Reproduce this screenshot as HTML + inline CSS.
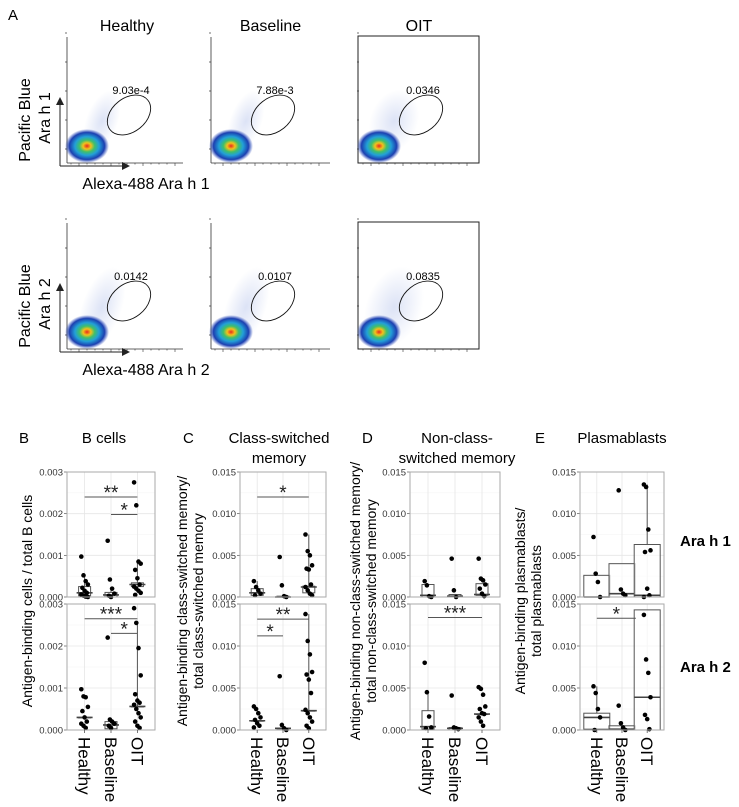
<!DOCTYPE html>
<html><head><meta charset="utf-8">
<style>
body{margin:0;background:#fff;}
svg{display:block;font-family:"Liberation Sans",Arial,sans-serif;}
</style></head>
<body>
<svg id="fig" width="739" height="807" viewBox="0 0 739 807">
<defs>
<radialGradient id="blob" cx="50%" cy="50%" r="50%">
<stop offset="0" stop-color="#e8281e"/>
<stop offset="0.18" stop-color="#f2c21c"/>
<stop offset="0.35" stop-color="#3fbf6a"/>
<stop offset="0.55" stop-color="#22a0d8"/>
<stop offset="0.8" stop-color="#1c3fb0"/>
<stop offset="1" stop-color="#3050c0" stop-opacity="0"/>
</radialGradient>
<radialGradient id="haze" cx="50%" cy="50%" r="50%">
<stop offset="0" stop-color="#8aa0e0" stop-opacity="0.3"/>
<stop offset="1" stop-color="#8aa0e0" stop-opacity="0"/>
</radialGradient>
<marker id="arr" markerWidth="8" markerHeight="8" refX="6" refY="4" orient="auto"><path d="M0,0 L8,4 L0,8 z" fill="#222"/></marker>
</defs>
<text x="8" y="20" font-size="15">A</text>
<g id="flow"></g>
<g id="charts"></g>
</svg>
<script>
const NS="http://www.w3.org/2000/svg";
function mk(tag,attrs,parent,text){const e=document.createElementNS(NS,tag);for(const k in attrs)e.setAttribute(k,attrs[k]);if(text!==undefined)e.textContent=text;parent.appendChild(e);return e;}

/* ---------- Flow plots ---------- */
const flowGroups=["Healthy","Baseline","OIT"];
const flowRow1=["9.03e-4","7.88e-3","0.0346"];
const flowRow2=["0.0142","0.0107","0.0835"];
const flowRowNames=["Ara h 1","Ara h 2"];
const flow=document.getElementById('flow');
const fx=[67,211,359],fw=[116,119,120];
flowGroups.forEach((g,i)=>{
  const t=mk('text',{x:fx[i]+fw[i]/2+(i==0?2:0),y:31,'font-size':16,'text-anchor':'middle'},flow,g);
  
  
});
[flowRow1,flowRow2].forEach((vals,r)=>{
  const oy=r*186;
  vals.forEach((v,i)=>{
    const gp=mk('g',{},flow);
    
    
    const x0=fx[i],x1=fx[i]+fw[i],y0=37+oy,y1=163+oy;
    if(i==2) mk('rect',{x:x0-1,y:y0-1,width:x1-x0+1,height:y1-y0+1,fill:'none',stroke:'#222','stroke-width':1},gp);
    else{
      mk('line',{x1:x0,y1:y0,x2:x0,y2:y1,stroke:'#333','stroke-width':0.8},gp);
      mk('line',{x1:x0,y1:y1,x2:x1,y2:y1,stroke:'#333','stroke-width':0.8},gp);
    }
    for(let k=0;k<14;k++){mk('line',{x1:x0+4+k*8,y1:y1,x2:x0+4+k*8,y2:y1+(k%4==1?3:1.5),stroke:'#333','stroke-width':0.6},gp);}
    for(let k=0;k<5;k++){mk('line',{x1:x0,y1:y1-14-k*29,x2:x0-2,y2:y1-14-k*29,stroke:'#333','stroke-width':0.7},gp);}
    const bx=x0+20,by=y1-17;
    mk('ellipse',{cx:bx+15,cy:by-25,rx:16+(i==2?8:0)+r*4,ry:32+r*10,fill:'url(#haze)',transform:`rotate(20 ${bx+15} ${by-25})`},gp);
    mk('ellipse',{cx:bx,cy:by,rx:22,ry:17,fill:'url(#blob)'},gp);
    const ex=x0+62,ey=y0+78;
    mk('ellipse',{cx:ex,cy:ey,rx:24,ry:17,fill:'none',stroke:'#111','stroke-width':0.9,transform:`rotate(-38 ${ex} ${ey})`},gp);
    mk('text',{x:ex+2,y:y0+57,'font-size':11,'text-anchor':'middle'},gp,v);
  });
  const ax=mk('g',{},flow);
  
  
  mk('line',{x1:60,y1:166+oy,x2:60,y2:99+oy,stroke:'#222','stroke-width':1,'marker-end':'url(#arr)'},ax);
  mk('line',{x1:60,y1:166+oy,x2:128,y2:166+oy,stroke:'#222','stroke-width':1,'marker-end':'url(#arr)'},ax);
  mk('text',{x:0,y:0,'font-size':16,'text-anchor':'middle',transform:`translate(30 ${120+oy}) rotate(-90)`},ax,'Pacific Blue');
  mk('text',{x:0,y:0,'font-size':16,'text-anchor':'middle',transform:`translate(50 ${118+oy}) rotate(-90)`},ax,flowRowNames[r]);
  mk('text',{x:146,y:189+oy,'font-size':16,'text-anchor':'middle'},ax,'Alexa-488 '+flowRowNames[r]);
});

/* ---------- Box/dot chart data ---------- */
const categories=["Healthy","Baseline","OIT"];
// B cells
const bTopPts=[[0.00097,0.00052,0.00038,0.0003,0.00022,0.00015,0.0001,0.00006,0.00003,0.00001,0],[0.00135,0.00042,0.0002,0.00008,0.00003,0],[0.00275,0.0022,0.00085,0.0008,0.00065,0.00045,0.0003,0.00025,0.0002,0.00015,0.0001,0.00005]];
const bTopBox=[[0.00003,0.0001,0.00025,0.00052],[0,0.00005,0.00011,0.0002],[0.00025,0.0003,0.00034,0.00085]];
const bBotPts=[[0.00097,0.0008,0.00078,0.00055,0.00045,0.0003,0.0002,0.00015,0.0001,0.00005],[0.0022,0.00025,0.0002,0.00015,0.0001,0.00005],[0.0029,0.00255,0.00195,0.0013,0.00085,0.0007,0.00065,0.0006,0.0005,0.0004,0.0003,0.0002,0.0001,0.00005]];
const bBotBox=[[0.0003,0.0003,0.0003,0.0003],[0.00003,0.00012,0.0002,0.0002],[0.00056,0.00056,0.00056,0.00255]];
const bTopSig=[[0,2,0.0024,"**"],[1,2,0.00198,"*"]];
const bBotSig=[[0,2,0.00265,"***"],[1,2,0.0023,"*"]];
const bTicks=["0.000","0.001","0.002","0.003"];
// Class-switched
const cTopPts=[[0.0019,0.0012,0.0008,0.0004,0.0002],[0.0048,0.0014,0.0001,0],[0.0075,0.0055,0.005,0.0038,0.0034,0.0033,0.0015,0.0012,0.0008,0.0004,0.0002]];
const cTopBox=[[0.0002,0.0005,0.001,0.0019],[0,0,0.0001,0.0001],[0.0005,0.0012,0.0013,0.0075]];
const cBotPts=[[0.0028,0.0025,0.002,0.0015,0.0012,0.0008,0.0005,0.0003],[0.0064,0.0006,0.0002,0],[0.0138,0.0106,0.009,0.0069,0.0066,0.006,0.0044,0.0024,0.002,0.0015,0.001,0.0005,0.0002]];
const cBotBox=[[0.0011,0.0011,0.0011,0.0011],[0.0002,0.0002,0.0002,0.0002],[0.0023,0.0023,0.0023,0.0138]];
const cTopSig=[[0,2,0.012,"*"]];
const cBotSig=[[0,2,0.0132,"**"],[0,1,0.0112,"*"]];
const sTicks=["0.000","0.005","0.010","0.015"];
// Non-class-switched
const dTopPts=[[0.0019,0.0014,0.0001,0],[0.0046,0.0008,0],[0.0046,0.0022,0.002,0.0015,0.001,0.0004,0.0001]];
const dTopBox=[[0,0.0002,0.0015,0.0015],[0,0.0001,0.0003,0.0003],[0.0002,0.0003,0.0016,0.0016]];
const dBotPts=[[0.008,0.0045,0.0016,0.0003,0.0002],[0.0041,0.0003,0.0002,0.0001],[0.0051,0.0049,0.0042,0.0028,0.0025,0.002,0.0019,0.0015,0.001,0.0005]];
const dBotBox=[[0.0001,0.0004,0.0023,0.0045],[0,0.0002,0.0003,0.0003],[0.0019,0.0019,0.0019,0.0019]];
const dTopSig=[];
const dBotSig=[[0,2,0.0134,"***"]];
// Plasmablasts
const eTopPts=[[0.0072,0.0028,0.0018,0],[0.0128,0.0009,0.0004,0.0002],[0.0135,0.0132,0.0081,0.0056,0.0054,0.001,0.0002,0]];
const eTopBox=[[0,0,0.0026,0.0026],[0,0.0004,0.004,0.004],[0,0.0002,0.0063,0.0135]];
const eBotPts=[[0.0052,0.0044,0.0025,0.0015,0],[0.0029,0.0008,0.0003,0],[0.0137,0.0084,0.0068,0.0039,0.0018,0.0013,0.0001]];
const eBotBox=[[0.0001,0.0015,0.002,0.0052],[0,0.0001,0.0005,0.0005],[0,0.0039,0.0143,0.0143]];
const eTopSig=[];
const eBotSig=[[0,1.55,0.0133,"*"]];

const panels=[
 {id:'b',letter:'B',lx:19,title:['B cells'],tx:104,left:67,w:88,max:0.003,ticks:bTicks,bw:12,
  top:[bTopPts,bTopBox,bTopSig],bot:[bBotPts,bBotBox,bBotSig],ylab:['Antigen-binding cells / total B cells'],ylx:[35]},
 {id:'c',letter:'C',lx:183,title:['Class-switched','memory'],tx:279,left:240,w:86,max:0.015,ticks:sTicks,bw:12,
  top:[cTopPts,cTopBox,cTopSig],bot:[cBotPts,cBotBox,cBotSig],ylab:['Antigen-binding class-switched memory/','total class-switched memory'],ylx:[190,206]},
 {id:'d',letter:'D',lx:362,title:['Non-class-','switched memory'],tx:457,left:410,w:90,max:0.015,ticks:sTicks,bw:12,
  top:[dTopPts,dTopBox,dTopSig],bot:[dBotPts,dBotBox,dBotSig],ylab:['Antigen-binding non-class-switched memory/','total non-class-switched memory'],ylx:[363,379]},
 {id:'e',letter:'E',lx:535,title:['Plasmablasts'],tx:622,left:580,w:84,max:0.015,ticks:sTicks,bw:26,
  top:[eTopPts,eTopBox,eTopSig],bot:[eBotPts,eBotBox,eBotSig],ylab:['Antigen-binding plasmablasts/','total plasmablasts'],ylx:[528,544]}
];
const rows=[{top:472,bottom:597},{top:604,bottom:730}];
const charts=document.getElementById('charts');

panels.forEach(p=>{
  const g=mk('g',{},charts);
  
  
  const L=mk('text',{x:p.lx,y:443,'font-size':15},g,p.letter);
  
  
  p.title.forEach((t,k)=>{
    const T=mk('text',{x:p.tx,y:443+k*20,'font-size':15,'text-anchor':'middle'},g,t);
    
    
  });
  p.ylab.forEach((t,k)=>{
    const Y=mk('text',{x:0,y:0,'font-size':14,'text-anchor':'middle',transform:`translate(${p.ylx[k]-3} 601) rotate(-90)`},g,t);
    
    
  });
  const xPos=i=>p.left+p.w*(0.2+i*0.3);
  [p.top,p.bot].forEach((sec,r)=>{
    const R=rows[r];
    const yS=v=>R.bottom-(v/p.max)*(R.bottom-R.top);
    const pg=mk('g',{},g);
    
    
    mk('rect',{x:p.left,y:R.top,width:p.w,height:R.bottom-R.top,fill:'#fff'},pg);
    const nt=p.ticks.length;
    for(let k=0;k<nt*2-1;k++){
      const v=p.max*k/(2*(nt-1));
      mk('line',{x1:p.left,x2:p.left+p.w,y1:yS(v),y2:yS(v),stroke:k%2?'#f3f3f3':'#e6e6e6','stroke-width':k%2?0.5:0.8},pg);
    }
    categories.forEach((c,i)=>mk('line',{x1:xPos(i),x2:xPos(i),y1:R.top,y2:R.bottom,stroke:'#e6e6e6','stroke-width':0.8},pg));
    p.ticks.forEach((t,k)=>{
      const v=p.max*k/(nt-1);
      mk('text',{x:p.left-4,y:yS(v)+3.5,'font-size':9.5,'text-anchor':'end',fill:'#333'},pg,t);
      mk('line',{x1:p.left-3,x2:p.left,y1:yS(v),y2:yS(v),stroke:'#555','stroke-width':0.7},pg);
    });
    const [pts,box,sig]=sec;
    categories.forEach((c,i)=>{
      const x=xPos(i),b=box[i];
      const bg=mk('g',{},pg);
      
      
      mk('line',{x1:x,x2:x,y1:yS(b[2]),y2:yS(b[3]),stroke:'#555','stroke-width':1},bg);
      mk('rect',{x:x-p.bw/2,y:yS(b[2]),width:p.bw,height:Math.max(0.5,yS(b[0])-yS(b[2])),fill:'#fff','fill-opacity':0.6,stroke:'#555','stroke-width':1},bg);
      mk('line',{x1:x-p.bw/2-(p.bw<20?2:0),x2:x+p.bw/2+(p.bw<20?2:0),y1:yS(b[1]),y2:yS(b[1]),stroke:'#444','stroke-width':1.6},bg);
      pts[i].forEach((v,j)=>{
        const jit=((j*37)%7-3)*1.1;
        const d=mk('circle',{cx:x+jit,cy:yS(v),r:2.3,fill:'#000'},pg);
        
        
      });
    });
    sig.forEach(s=>{
      const x1=xPos(s[0]),x2=xPos(s[1]),y=yS(s[2]);
      const sg=mk('g',{},pg);
      
      
      mk('line',{x1:x1,x2:x2,y1:y,y2:y,stroke:'#555','stroke-width':1},sg);
      mk('text',{x:(x1+x2)/2,y:y+2,'font-size':19,'text-anchor':'middle',fill:'#222'},sg,s[3]);
    });
    mk('rect',{x:p.left,y:R.top,width:p.w,height:R.bottom-R.top,fill:'none',stroke:'#aaa','stroke-width':1},pg);
  });
  categories.forEach((c,i)=>{
    const x=xPos(i);
    mk('line',{x1:x,x2:x,y1:730,y2:733,stroke:'#555','stroke-width':0.8},g);
    const t=mk('text',{x:0,y:0,'font-size':17,transform:`translate(${x-6} 737) rotate(90)`},g,c);
    
    
  });
});
const a1=mk('text',{x:680,y:546,'font-size':15,'font-weight':'bold'},charts,'Ara h 1');


const a2=mk('text',{x:680,y:672,'font-size':15,'font-weight':'bold'},charts,'Ara h 2');


</script>
</body></html>
